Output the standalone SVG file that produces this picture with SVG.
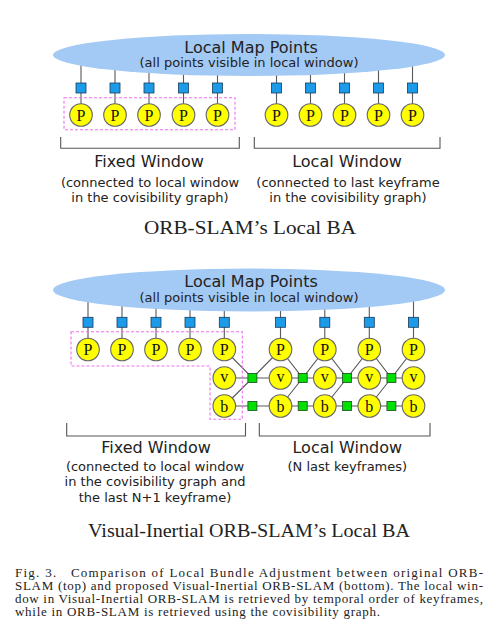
<svg xmlns="http://www.w3.org/2000/svg" width="494" height="643" viewBox="0 0 494 643">
<style>
.bg{fill:#ffffff}
.ell{fill:#a3c9f5;stroke:none}
.ln{stroke:#5a5a5a;stroke-width:1.1;fill:none}
.br{stroke:#555;stroke-width:1.1;fill:none}
.sq{fill:#1c9be8;stroke:#1a3a5a;stroke-width:0.8}
.gsq{fill:#00e000;stroke:#1a4a1a;stroke-width:0.8}
.kf{fill:#ffff00;stroke:#666;stroke-width:1.1}
.kt{font-family:"Liberation Serif",serif;font-size:16px;fill:#111;text-anchor:middle}
.dash{fill:none;stroke:#f070f0;stroke-width:1.1;stroke-dasharray:3,2}
.h1{font-family:"DejaVu Sans",sans-serif;font-size:16px;fill:#222;text-anchor:middle}
.h2{font-family:"DejaVu Sans",sans-serif;font-size:13px;fill:#222;text-anchor:middle}
.ttl{font-family:"Liberation Serif",serif;font-size:19px;fill:#222;text-anchor:middle}
.cap{font-family:"Liberation Serif",serif;font-size:13px;fill:#222}
</style>
<rect class="bg" x="0" y="0" width="494" height="643"/>

<!-- ===== Top: ORB-SLAM local BA ===== -->
<g id="top-connectors">
  <path class="ln" d="M81,60V115 M115,60V115 M149,60V115 M183.5,60V115 M217.5,60V115 M276.5,60V115 M310.5,60V115 M344.5,60V115 M378.5,60V115 M412.5,60V115"/>
</g>
<g id="top-mappoints">
  <ellipse class="ell" cx="249" cy="55" rx="196" ry="21"/>
  <text class="h1" x="251" y="52.5">Local Map Points</text>
  <text class="h2" x="249" y="67">(all points visible in local window)</text>
</g>
<g id="top-observations">
  <rect class="sq" x="76" y="83" width="10" height="10"/>
  <rect class="sq" x="110" y="83" width="10" height="10"/>
  <rect class="sq" x="144" y="83" width="10" height="10"/>
  <rect class="sq" x="178.5" y="83" width="10" height="10"/>
  <rect class="sq" x="212.5" y="83" width="10" height="10"/>
  <rect class="sq" x="271.5" y="83" width="10" height="10"/>
  <rect class="sq" x="305.5" y="83" width="10" height="10"/>
  <rect class="sq" x="339.5" y="83" width="10" height="10"/>
  <rect class="sq" x="373.5" y="83" width="10" height="10"/>
  <rect class="sq" x="407.5" y="83" width="10" height="10"/>
</g>
<g id="top-fixed-window">
  <rect class="dash" x="64" y="97.7" width="171" height="32"/>
  <g id="top-P1"><circle class="kf" cx="81" cy="115" r="11.3"/><text class="kt" x="81" y="120.5">P</text></g>
  <g id="top-P2"><circle class="kf" cx="115" cy="115" r="11.3"/><text class="kt" x="115" y="120.5">P</text></g>
  <g id="top-P3"><circle class="kf" cx="149" cy="115" r="11.3"/><text class="kt" x="149" y="120.5">P</text></g>
  <g id="top-P4"><circle class="kf" cx="183.5" cy="115" r="11.3"/><text class="kt" x="183.5" y="120.5">P</text></g>
  <g id="top-P5"><circle class="kf" cx="217.5" cy="115" r="11.3"/><text class="kt" x="217.5" y="120.5">P</text></g>
  <path class="br" d="M60.7,137V148.3H239.3V137"/>
  <text class="h1" x="149" y="166.7">Fixed Window</text>
  <text class="h2" x="150" y="187">(connected to local window</text>
  <text class="h2" x="150" y="202">in the covisibility graph)</text>
</g>
<g id="top-local-window">
  <g id="top-P6"><circle class="kf" cx="276.5" cy="115" r="11.3"/><text class="kt" x="276.5" y="120.5">P</text></g>
  <g id="top-P7"><circle class="kf" cx="310.5" cy="115" r="11.3"/><text class="kt" x="310.5" y="120.5">P</text></g>
  <g id="top-P8"><circle class="kf" cx="344.5" cy="115" r="11.3"/><text class="kt" x="344.5" y="120.5">P</text></g>
  <g id="top-P9"><circle class="kf" cx="378.5" cy="115" r="11.3"/><text class="kt" x="378.5" y="120.5">P</text></g>
  <g id="top-P10"><circle class="kf" cx="412.5" cy="115" r="11.3"/><text class="kt" x="412.5" y="120.5">P</text></g>
  <path class="br" d="M254.3,137V148.3H440V137"/>
  <text class="h1" x="347" y="166.7">Local Window</text>
  <text class="h2" x="348" y="187">(connected to last keyframe</text>
  <text class="h2" x="348" y="202">in the covisibility graph)</text>
</g>
<text class="ttl" x="250" y="234" textLength="212" lengthAdjust="spacingAndGlyphs">ORB-SLAM’s Local BA</text>

<!-- ===== Bottom: Visual-Inertial ORB-SLAM local BA ===== -->
<g id="bottom-connectors">
  <path class="ln" d="M88,296V349.5 M122,296V349.5 M156,296V349.5 M190,296V349.5 M224.3,296V349.5 M280.5,296V349.5 M324.8,296V349.5 M369.3,296V349.5 M413.5,296V349.5"/>
  <path class="ln" d="M224.3,378H413.5"/>
  <path class="ln" d="M224.3,406H413.5"/>
  <path class="ln" d="M224.3,349.5L252.4,378L280.5,349.5 M224.3,406L252.4,378"/>
  <path class="ln" d="M280.5,349.5L302.7,378L324.8,349.5 M280.5,406L302.7,378"/>
  <path class="ln" d="M324.8,349.5L347,378L369.3,349.5 M324.8,406L347,378"/>
  <path class="ln" d="M369.3,349.5L391.4,378L413.5,349.5 M369.3,406L391.4,378"/>
</g>
<g id="bottom-mappoints">
  <ellipse class="ell" cx="249" cy="290" rx="196" ry="21.5"/>
  <text class="h1" x="251" y="287">Local Map Points</text>
  <text class="h2" x="249" y="301.5">(all points visible in local window)</text>
</g>
<g id="bottom-observations">
  <rect class="sq" x="83" y="317.3" width="10" height="10"/>
  <rect class="sq" x="117" y="317.3" width="10" height="10"/>
  <rect class="sq" x="151" y="317.3" width="10" height="10"/>
  <rect class="sq" x="185" y="317.3" width="10" height="10"/>
  <rect class="sq" x="219.3" y="317.3" width="10" height="10"/>
  <rect class="sq" x="275.5" y="317.3" width="10" height="10"/>
  <rect class="sq" x="319.8" y="317.3" width="10" height="10"/>
  <rect class="sq" x="364.3" y="317.3" width="10" height="10"/>
  <rect class="sq" x="408.5" y="317.3" width="10" height="10"/>
</g>
<g id="bottom-inertial-factors">
  <rect class="gsq" x="247.9" y="373.5" width="9" height="9"/>
  <rect class="gsq" x="298.2" y="373.5" width="9" height="9"/>
  <rect class="gsq" x="342.5" y="373.5" width="9" height="9"/>
  <rect class="gsq" x="386.9" y="373.5" width="9" height="9"/>
  <rect class="gsq" x="247.9" y="401.5" width="9" height="9"/>
  <rect class="gsq" x="298.2" y="401.5" width="9" height="9"/>
  <rect class="gsq" x="342.5" y="401.5" width="9" height="9"/>
  <rect class="gsq" x="386.9" y="401.5" width="9" height="9"/>
</g>
<g id="bottom-fixed-window">
  <path class="dash" d="M71,331.7H242.3V419.3H210V366H71Z"/>
  <g id="bot-P1"><circle class="kf" cx="88" cy="349.5" r="11.3"/><text class="kt" x="88" y="355">P</text></g>
  <g id="bot-P2"><circle class="kf" cx="122" cy="349.5" r="11.3"/><text class="kt" x="122" y="355">P</text></g>
  <g id="bot-P3"><circle class="kf" cx="156" cy="349.5" r="11.3"/><text class="kt" x="156" y="355">P</text></g>
  <g id="bot-P4"><circle class="kf" cx="190" cy="349.5" r="11.3"/><text class="kt" x="190" y="355">P</text></g>
  <g id="bot-P5"><circle class="kf" cx="224.3" cy="349.5" r="11.3"/><text class="kt" x="224.3" y="355">P</text></g>
  <g id="bot-v5"><circle class="kf" cx="224.3" cy="378" r="11.3"/><text class="kt" x="224.3" y="382.3">v</text></g>
  <g id="bot-b5"><circle class="kf" cx="224.3" cy="406" r="11.3"/><text class="kt" x="224.3" y="411.5">b</text></g>
  <path class="br" d="M66.7,423V436H245.5V423"/>
  <text class="h1" x="156" y="453.3">Fixed Window</text>
  <text class="h2" x="155" y="470.5">(connected to local window</text>
  <text class="h2" x="155" y="486.3">in the covisibility graph and</text>
  <text class="h2" x="155" y="502">the last N+1 keyframe)</text>
</g>
<g id="bottom-local-window">
  <g id="bot-P6"><circle class="kf" cx="280.5" cy="349.5" r="11.3"/><text class="kt" x="280.5" y="355">P</text></g>
  <g id="bot-P7"><circle class="kf" cx="324.8" cy="349.5" r="11.3"/><text class="kt" x="324.8" y="355">P</text></g>
  <g id="bot-P8"><circle class="kf" cx="369.3" cy="349.5" r="11.3"/><text class="kt" x="369.3" y="355">P</text></g>
  <g id="bot-P9"><circle class="kf" cx="413.5" cy="349.5" r="11.3"/><text class="kt" x="413.5" y="355">P</text></g>
  <g id="bot-v6"><circle class="kf" cx="280.5" cy="378" r="11.3"/><text class="kt" x="280.5" y="382.3">v</text></g>
  <g id="bot-v7"><circle class="kf" cx="324.8" cy="378" r="11.3"/><text class="kt" x="324.8" y="382.3">v</text></g>
  <g id="bot-v8"><circle class="kf" cx="369.3" cy="378" r="11.3"/><text class="kt" x="369.3" y="382.3">v</text></g>
  <g id="bot-v9"><circle class="kf" cx="413.5" cy="378" r="11.3"/><text class="kt" x="413.5" y="382.3">v</text></g>
  <g id="bot-b6"><circle class="kf" cx="280.5" cy="406" r="11.3"/><text class="kt" x="280.5" y="411.5">b</text></g>
  <g id="bot-b7"><circle class="kf" cx="324.8" cy="406" r="11.3"/><text class="kt" x="324.8" y="411.5">b</text></g>
  <g id="bot-b8"><circle class="kf" cx="369.3" cy="406" r="11.3"/><text class="kt" x="369.3" y="411.5">b</text></g>
  <g id="bot-b9"><circle class="kf" cx="413.5" cy="406" r="11.3"/><text class="kt" x="413.5" y="411.5">b</text></g>
  <path class="br" d="M259.3,423V436H430V423"/>
  <text class="h1" x="347.3" y="453.3">Local Window</text>
  <text class="h2" x="347.3" y="470.5">(N last keyframes)</text>
</g>
<text class="ttl" x="249" y="536.7" textLength="322" lengthAdjust="spacingAndGlyphs">Visual-Inertial ORB-SLAM’s Local BA</text>

<g id="caption">
  <text class="cap" x="15" y="576.5" textLength="468" lengthAdjust="spacing">Fig. 3.&#160;&#160;&#160;Comparison of Local Bundle Adjustment between original ORB-</text>
  <text class="cap" x="15" y="589.5" textLength="468" lengthAdjust="spacing">SLAM (top) and proposed Visual-Inertial ORB-SLAM (bottom). The local win-</text>
  <text class="cap" x="15" y="602.5" textLength="468" lengthAdjust="spacing">dow in Visual-Inertial ORB-SLAM is retrieved by temporal order of keyframes,</text>
  <text class="cap" x="15" y="615.5" textLength="365" lengthAdjust="spacing">while in ORB-SLAM is retrieved using the covisibility graph.</text>
</g>
</svg>
